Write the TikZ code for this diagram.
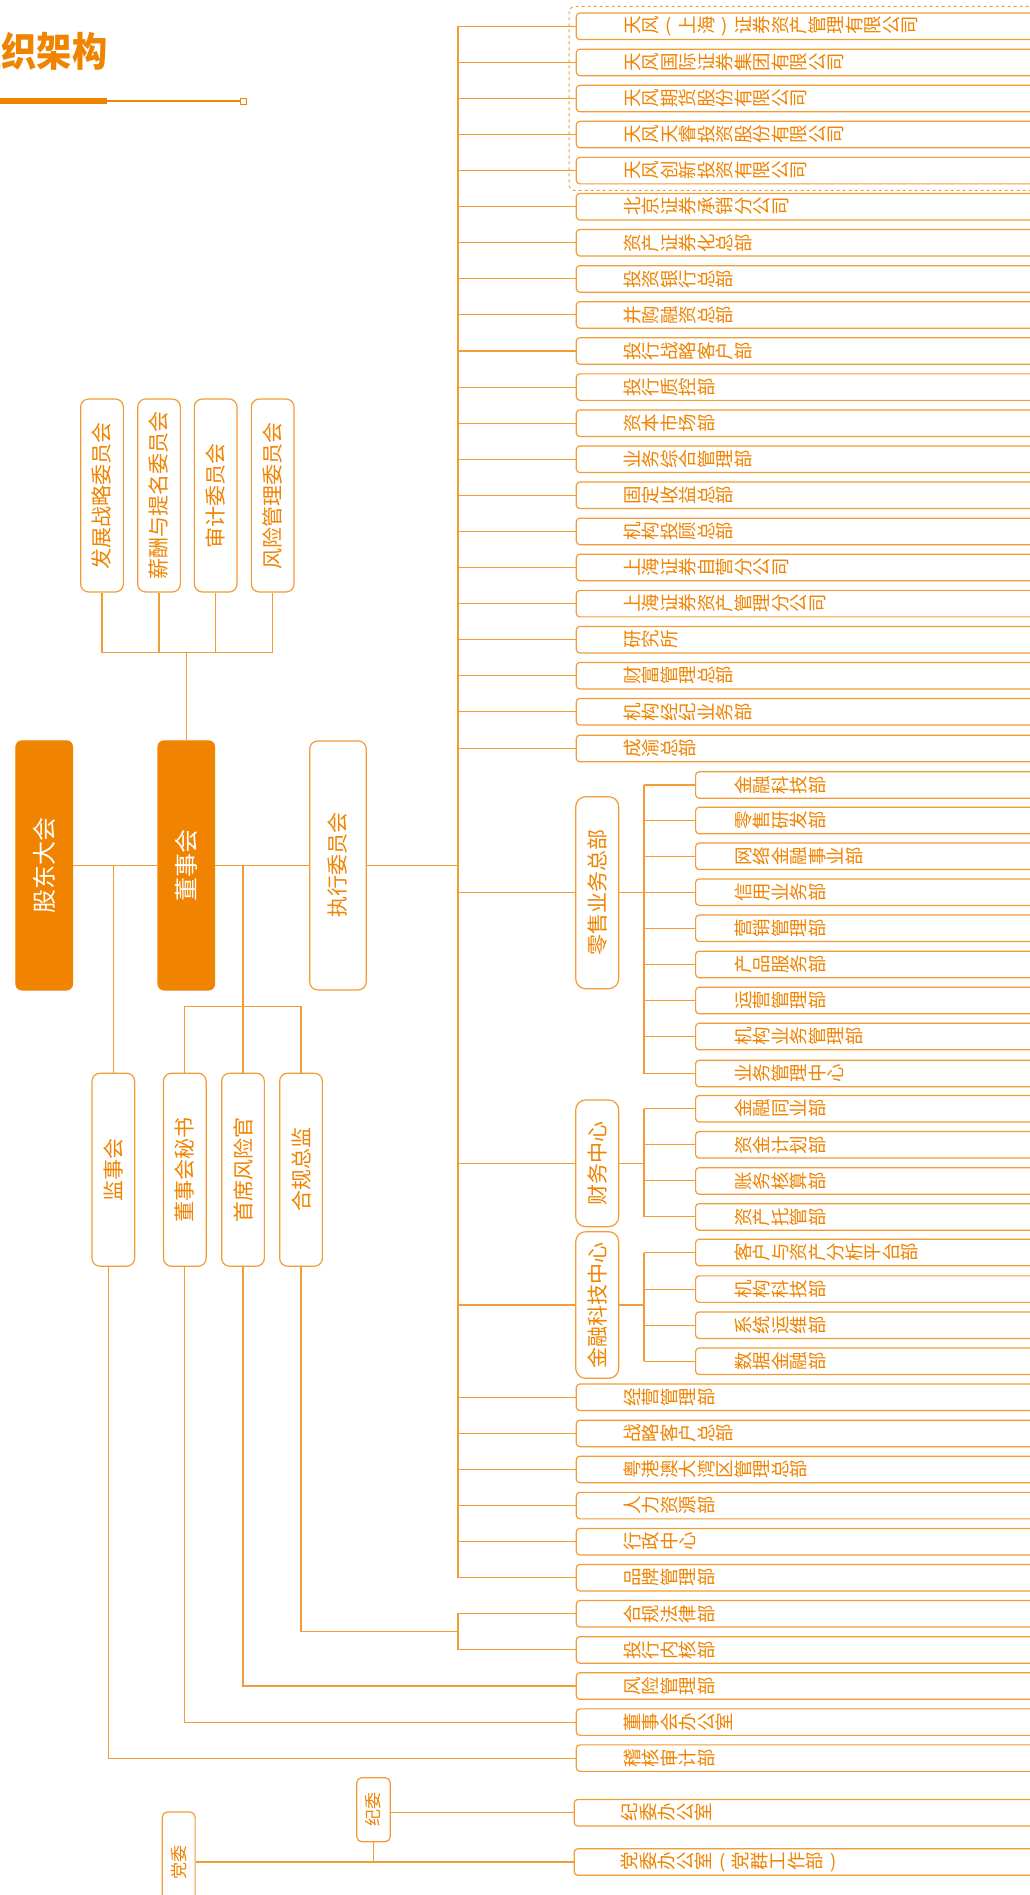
\documentclass[tikz,border=0pt]{standalone}
\usepackage{fontspec}
\setmainfont{Noto Sans CJK SC}
\usepackage{graphicx}
\usepackage{xcolor}
\usetikzlibrary{fit}
\definecolor{ora}{HTML}{F08300}
\definecolor{lin}{HTML}{F39B35}
% one character turned a quarter left, in a 1em slot
\newcommand\rch[1]{\hbox to 1em{\hss\rotatebox[origin=c]{90}{\raisebox{0pt}[.88em][.12em]{\hbox to 1em{\hss#1\hss}}}\hss}}
\def\rcloop#1{\ifx\relax#1\else\rch{#1}\expandafter\rcloop\fi}
\newcommand\rtxt[1]{\leavevmode\rcloop#1\relax}
\newcommand\upch[1]{\hbox to 1em{\hss#1\hss}}
\tikzset{
  ln/.style={draw=lin, line width=1.1pt},
  dept/.style={draw=lin, line width=1.2pt, rounded corners=3.5pt, fill=white, anchor=west,
               minimum height=26.5pt, inner ysep=0pt, inner xsep=46.5pt, text width=400pt,
               align=left, text=ora, font=\fontsize{18.5pt}{20pt}\selectfont},
  sub/.style={dept, inner xsep=38.3pt, text width=290pt},
  vbox/.style={draw=lin, line width=1.2pt, rounded corners=8pt, fill=white, text=ora,
               inner sep=0pt, font=\fontsize{21pt}{22pt}\selectfont},
  cmt/.style={vbox, minimum width=42.7pt, minimum height=193pt},
  exe/.style={vbox, minimum width=56.5pt, minimum height=249pt},
  head/.style={exe, draw=ora, fill=ora, text=white, rounded corners=6pt,
               font=\fontsize{24pt}{25pt}\selectfont},
  grpbox/.style={vbox, rounded corners=10pt, minimum width=43pt},
  small/.style={vbox, rounded corners=5pt, font=\fontsize{17pt}{18pt}\selectfont},
  grpd/.style={draw=lin, line width=1pt, dashed, rounded corners=6pt},
  ttl/.style={text=ora, inner sep=0pt, font=\fontsize{40pt}{42pt}\selectfont\bfseries}
}

\begin{document}
\begin{tikzpicture}[x=1pt, y=-1pt]
  \useasboundingbox (0,0) rectangle (1030,1895);
  \clip (0,0) rectangle (1030,1895);
  % title
  \node[ttl, anchor=base east] (title) at (107.5,66) {\scalebox{.88}[1]{组织架构}};
  \node[draw=ora, fill=white, line width=1pt, minimum size=6pt, inner sep=0pt] (tsq) at (243.7,101) {};
  \draw[ora, line width=6pt] (-5,101) -- (106.7,101);
  \draw[ora, line width=1.2pt] (106.7,101) -- (tsq.west);
  % board and committees
  \node[cmt] (fzzl) at (102,495.5) {\rotatebox{90}{发展战略委员会}};
  \node[cmt] (xctm) at (159,495.5) {\rotatebox{90}{薪酬与提名委员会}};
  \node[cmt] (sjwy) at (215.7,495.5) {\rotatebox{90}{审计委员会}};
  \node[cmt] (fxwy) at (272.7,495.5) {\rotatebox{90}{风险管理委员会}};
  \node[head] (gd) at (44.2,865.4) {\rotatebox{90}{股东大会}};
  \node[head] (dsh) at (186.3,865.4) {\rotatebox{90}{董事会}};
  \node[exe] (zw) at (338,865.4) {\rotatebox{90}{执行委员会}};
  \node[cmt] (jsh) at (113.3,1169.7) {\rotatebox{90}{监事会}};
  \node[cmt] (dms) at (184.8,1169.7) {\rotatebox{90}{董事会秘书}};
  \node[cmt] (sxfx) at (243,1169.7) {\rotatebox{90}{首席风险官}};
  \node[cmt] (hgzj) at (301,1169.7) {\rotatebox{90}{合规总监}};
  % departments, upper block
  \node[dept] (tfzg) at (575.7,26.3) {\rtxt{天风}\upch{(}\rtxt{上海}\upch{)}\rtxt{证券资产管理有限公司}};
  \node[dept] (tfgj) at (575.7,62.4) {\rtxt{天风国际证券集团有限公司}};
  \node[dept] (tfqh) at (575.7,98.5) {\rtxt{天风期货股份有限公司}};
  \node[dept] (tftr) at (575.7,134.5) {\rtxt{天风天睿投资股份有限公司}};
  \node[dept] (tfcx) at (575.7,170.6) {\rtxt{天风创新投资有限公司}};
  \node[grpd, fit=(tfzg)(tfcx), inner xsep=6.7pt, inner ysep=6pt] (tfgrp) {};
  \node[dept] (bjcx) at (575.7,206.7) {\rtxt{北京证券承销分公司}};
  \node[dept] (zczq) at (575.7,242.8) {\rtxt{资产证券化总部}};
  \node[dept] (tzyh) at (575.7,278.9) {\rtxt{投资银行总部}};
  \node[dept] (bgrz) at (575.7,314.9) {\rtxt{并购融资总部}};
  \node[dept] (thzl) at (575.7,351.0) {\rtxt{投行战略客户部}};
  \node[dept] (thzk) at (575.7,387.1) {\rtxt{投行质控部}};
  \node[dept] (zbsc) at (575.7,423.2) {\rtxt{资本市场部}};
  \node[dept] (ywzh) at (575.7,459.3) {\rtxt{业务综合管理部}};
  \node[dept] (gdsy) at (575.7,495.3) {\rtxt{固定收益总部}};
  \node[dept] (jgtg) at (575.7,531.4) {\rtxt{机构投顾总部}};
  \node[dept] (shzy) at (575.7,567.5) {\rtxt{上海证券自营分公司}};
  \node[dept] (shzg) at (575.7,603.6) {\rtxt{上海证券资产管理分公司}};
  \node[dept] (yjs) at (575.7,639.7) {\rtxt{研究所}};
  \node[dept] (cfgl) at (575.7,675.7) {\rtxt{财富管理总部}};
  \node[dept] (jgjj) at (575.7,711.8) {\rtxt{机构经纪业务部}};
  \node[dept] (cyzb) at (575.7,748.5) {\rtxt{成渝总部}};
  % retail
  \node[grpbox, minimum height=192pt] (ls) at (597.2,892.7) {\rotatebox{90}{零售业务总部}};
  \node[sub] (lsjk) at (695,785.0) {\rtxt{金融科技部}};
  \node[sub] (lsyf) at (695,820.5) {\rtxt{零售研发部}};
  \node[sub] (wljr) at (695,856.3) {\rtxt{网络金融事业部}};
  \node[sub] (xyyw) at (695,892.2) {\rtxt{信用业务部}};
  \node[sub] (yxgl) at (695,928.3) {\rtxt{营销管理部}};
  \node[sub] (cpfw) at (695,964.4) {\rtxt{产品服务部}};
  \node[sub] (yygl) at (695,1000.5) {\rtxt{运营管理部}};
  \node[sub] (jgyw) at (695,1036.5) {\rtxt{机构业务管理部}};
  \node[sub] (ywgl) at (695,1073.5) {\rtxt{业务管理中心}};
  % finance
  \node[grpbox, minimum height=126.7pt] (cw) at (597.2,1163.3) {\rotatebox{90}{财务中心}};
  \node[sub] (jrty) at (695,1108.7) {\rtxt{金融同业部}};
  \node[sub] (zjjh) at (695,1144.8) {\rtxt{资金计划部}};
  \node[sub] (zwhs) at (695,1180.9) {\rtxt{账务核算部}};
  \node[sub] (zctg) at (695,1216.9) {\rtxt{资产托管部}};
  % fintech
  \node[grpbox, minimum height=146.6pt] (jk) at (597.2,1305) {\rotatebox{90}{金融科技中心}};
  \node[sub] (khzc) at (695,1252.5) {\rtxt{客户与资产分析平台部}};
  \node[sub] (jgkj) at (695,1289.1) {\rtxt{机构科技部}};
  \node[sub] (xtyw) at (695,1325.2) {\rtxt{系统运维部}};
  \node[sub] (sjjr) at (695,1361.3) {\rtxt{数据金融部}};
  % departments, lower block
  \node[dept] (jygl) at (575.7,1397.3) {\rtxt{经营管理部}};
  \node[dept] (zlkh) at (575.7,1433.4) {\rtxt{战略客户总部}};
  \node[dept] (ygaw) at (575.7,1469.5) {\rtxt{粤港澳大湾区管理总部}};
  \node[dept] (rlzy) at (575.7,1505.6) {\rtxt{人力资源部}};
  \node[dept] (xzzx) at (575.7,1541.7) {\rtxt{行政中心}};
  \node[dept] (ppgl) at (575.7,1577.7) {\rtxt{品牌管理部}};
  \node[dept] (hgfl) at (575.7,1613.8) {\rtxt{合规法律部}};
  \node[dept] (thnh) at (575.7,1649.9) {\rtxt{投行内核部}};
  \node[dept] (fxgl) at (575.7,1686.0) {\rtxt{风险管理部}};
  \node[dept] (dsbg) at (575.7,1722.1) {\rtxt{董事会办公室}};
  \node[dept] (jhsj) at (575.7,1758.1) {\rtxt{稽核审计部}};
  % party
  \node[small, minimum width=33.5pt, minimum height=64pt] (jw) at (373.5,1809.7) {\rotatebox{90}{纪委}};
  \node[small, minimum width=32.8pt, minimum height=100pt] (dw) at (178.7,1862) {\rotatebox{90}{党委}};
  \node[dept] (jwbg) at (573.6,1812.7) {\rtxt{纪委办公室}};
  \node[dept] (dwbg) at (573.6,1862) {\rtxt{党委办公室}\upch{(}\rtxt{党群工作部}\upch{)}};
  % junctions
  \coordinate (cbus) at (186.3,652.8);
  \coordinate (gbus) at (243,1006.7);
  \coordinate (sp) at (458,865.4);
  \coordinate (lsp) at (644,892.7);
  \coordinate (cwp) at (644,1163.3);
  \coordinate (jkp) at (644,1305);
  \coordinate (hb) at (458,1631.9);
  % links
  \draw[ln] (fzzl.south) |- (cbus);
  \draw[ln] (xctm.south) |- (cbus);
  \draw[ln] (sjwy.south) |- (cbus);
  \draw[ln] (fxwy.south) |- (cbus);
  \draw[ln] (cbus) -- (dsh.north);
  \draw[ln] (gd.east) -- (dsh.west);
  \draw[ln] (dsh.east) -- (zw.west);
  \draw[ln] (zw.east) -- (sp);
  \draw[ln] (jsh.north) -- (jsh.north |- gd.east);
  \draw[ln] (sxfx.north) -- (sxfx.north |- dsh.east);
  \draw[ln] (dms.north) |- (gbus);
  \draw[ln] (hgzj.north) |- (gbus);
  \draw[ln] (sp |- tfzg.west) -- (sp |- ppgl.west);
  \foreach \d in {tfzg,tfgj,tfqh,tftr,tfcx,bjcx,zczq,tzyh,bgrz,thzl,thzk,zbsc,ywzh,gdsy,jgtg,
                  shzy,shzg,yjs,cfgl,jgjj,cyzb,ls,cw,jk,jygl,zlkh,ygaw,rlzy,xzzx,ppgl}
    \draw[ln] (sp |- \d.west) -- (\d.west);
  \draw[ln] (ls.east) -- (lsp);
  \draw[ln] (lsp |- lsjk.west) -- (lsp |- ywgl.west);
  \foreach \d in {lsjk,lsyf,wljr,xyyw,yxgl,cpfw,yygl,jgyw,ywgl}
    \draw[ln] (lsp |- \d.west) -- (\d.west);
  \draw[ln] (cw.east) -- (cwp);
  \draw[ln] (cwp |- jrty.west) -- (cwp |- zctg.west);
  \foreach \d in {jrty,zjjh,zwhs,zctg}
    \draw[ln] (cwp |- \d.west) -- (\d.west);
  \draw[ln] (jk.east) -- (jkp);
  \draw[ln] (jkp |- khzc.west) -- (jkp |- sjjr.west);
  \foreach \d in {khzc,jgkj,xtyw,sjjr}
    \draw[ln] (jkp |- \d.west) -- (\d.west);
  \draw[ln] ([xshift=-4.6pt]jsh.south) |- (jhsj.west);
  \draw[ln] (dms.south) |- (dsbg.west);
  \draw[ln] (sxfx.south) |- (fxgl.west);
  \draw[ln] (hgzj.south) |- (hb);
  \draw[ln] (hgfl.west) -| (hb) |- (thnh.west);
  \draw[ln] (jw.east |- jwbg.west) -- (jwbg.west);
  \draw[ln] (dw.east) -- (dwbg.west);
  \draw[ln] (jw.south) -- (jw.south |- dwbg.west);
\end{tikzpicture}
\end{document}
